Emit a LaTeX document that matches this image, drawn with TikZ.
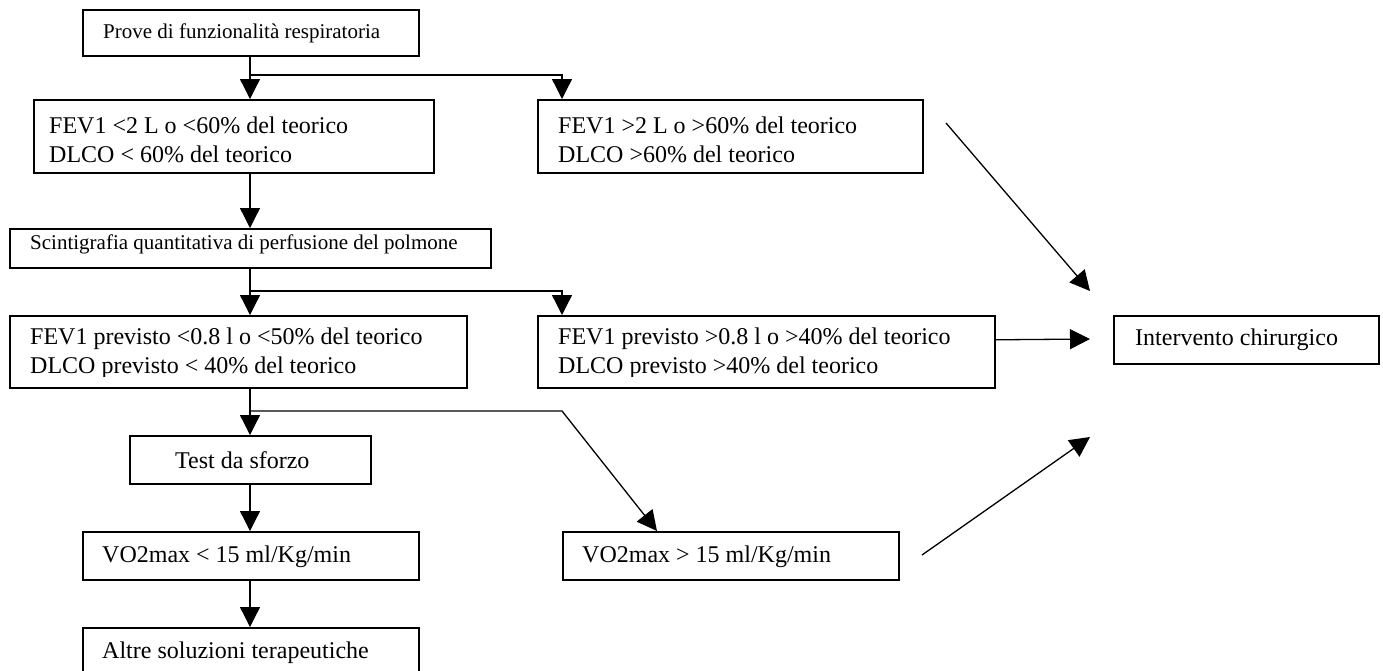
\documentclass[tikz,border=0pt]{standalone}
\usepackage{fontspec}
\setmainfont{Liberation Serif}
\usetikzlibrary{arrows.meta}
\begin{document}
\begin{tikzpicture}[x=1pt,y=-1pt,
  box/.style={draw, line width=1.6pt, inner sep=0pt, anchor=north west},
  txt/.style={inner sep=0pt, anchor=west, align=left},
  big/.style={font=\fontsize{24}{29}\selectfont},
  small/.style={font=\fontsize{21}{25}\selectfont},
  arr/.style={line width=1.3pt, -{Triangle[length=20pt,width=20pt]}},
  conn/.style={line width=1.3pt}]
\path[use as bounding box, fill=white] (0,0) rectangle (1383,670);
\clip (0,0) rectangle (1383,670);
% boxes
\node[box, minimum width=336pt, minimum height=46pt] (top) at (82,9) {};
\node[box, minimum width=400pt, minimum height=73pt] (b2) at (33,99) {};
\node[box, minimum width=385pt, minimum height=73pt] (b3) at (537,99) {};
\node[box, minimum width=481pt, minimum height=39pt] (b4) at (9,228) {};
\node[box, minimum width=457pt, minimum height=72pt] (b5) at (9,315) {};
\node[box, minimum width=457pt, minimum height=72pt] (b6) at (537,315) {};
\node[box, minimum width=241pt, minimum height=48pt] (test) at (129,435) {};
\node[box, minimum width=336pt, minimum height=48pt] (vlo) at (82,531) {};
\node[box, minimum width=336pt, minimum height=48pt] (vhi) at (562,531) {};
\node[box, minimum width=336pt, minimum height=60pt] (altre) at (82,627) {};
\node[box, minimum width=265pt, minimum height=48pt] (interv) at (1113,315) {};
% texts
\node[txt, small] (ttop) at (103,33) {Prove di funzionalità respiratoria};
\node[txt, big] (tb2) at (49,139.5) {FEV1 <2 L o <60\% del teorico\\DLCO < 60\% del teorico};
\node[txt, big] (tb3) at (558,139.5) {FEV1 >2 L o >60\% del teorico\\DLCO >60\% del teorico};
\node[txt, small] (tb4) at (30,244) {Scintigrafia quantitativa di perfusione del polmone};
\begin{scope}
\clip (0,300) rectangle (1000,376);
\node[txt, big] (tb5) at (30,353.5) {FEV1 previsto <0.8 l o <50\% del teorico\\DLCO previsto < 40\% del teorico};
\node[txt, big] (tb6) at (558,353.5) {FEV1 previsto >0.8 l o >40\% del teorico\\DLCO previsto >40\% del teorico};
\end{scope}
\node[txt, big] (ttest) at (175,460) {Test da sforzo};
\node[txt, big] (tvlo) at (102,557) {VO2max < 15 ml/Kg/min};
\node[txt, big] (tvhi) at (582,557) {VO2max > 15 ml/Kg/min};
\node[txt, big] (taltre) at (102,653) {Altre soluzioni terapeutiche};
\node[txt, big] (tint) at (1135,340) {Intervento chirurgico};
% coordinates
\coordinate (col) at (250,0);
\coordinate (j1) at (250,75);
\coordinate (j2) at (250,291);
\coordinate (j3) at (250,411);
\coordinate (k3) at (562,411);
\coordinate (d1s) at (946,123);
\coordinate (d1e) at (1090,291);
\coordinate (h2e) at (1090,339);
\coordinate (d3s) at (922,555);
\coordinate (d3e) at (1090,437);
% connectors
\draw[arr] (top.south -| col) -- (b2.north -| col);
\draw[arr] (j1) -| ([xshift=25pt]b3.north west);
\draw[arr] (b2.south -| col) -- (b4.north -| col);
\draw[arr] (b4.south -| col) -- (b5.north -| col);
\draw[arr] (j2) -| ([xshift=25pt]b6.north west);
\draw[arr] (b5.south -| col) -- (test.north -| col);
\draw[arr] (j3) -- (k3) -- ([xshift=95pt]vhi.north west);
\draw[arr] (test.south -| col) -- (vlo.north -| col);
\draw[arr] (vlo.south -| col) -- (altre.north -| col);
\draw[arr] (b6.east |- interv.west) -- (h2e);
\draw[arr] (d1s) -- (d1e);
\draw[arr] (d3s) -- (d3e);
\end{tikzpicture}
\end{document}
